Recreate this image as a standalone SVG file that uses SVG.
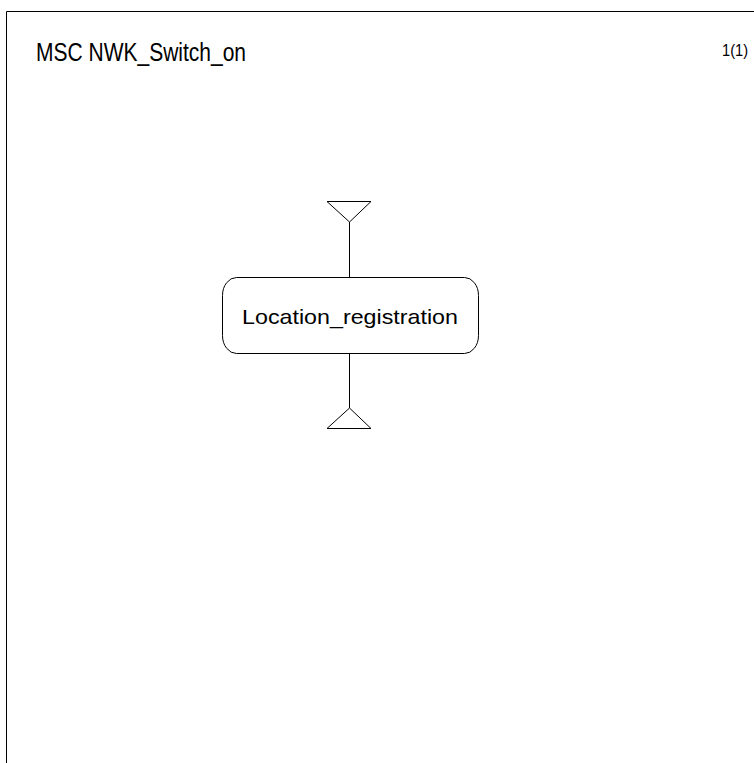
<svg xmlns="http://www.w3.org/2000/svg" width="754" height="763" viewBox="0 0 754 763">
<style>
.ln{fill:none;stroke:#000;stroke-width:1}
.t{font-family:"Liberation Sans",Arial,sans-serif;fill:#000}
</style>
<rect width="754" height="763" fill="#fff"/>
<g id="frame">
<path class="ln" d="M6.5,763 V11.5 H754"/>
<text class="t" x="36" y="61" font-size="25" textLength="210" lengthAdjust="spacingAndGlyphs">MSC NWK_Switch_on</text>
<text class="t" x="722" y="56" font-size="17" textLength="26" lengthAdjust="spacingAndGlyphs">1(1)</text>
</g>
<g id="connectors">
<line class="ln" x1="349.5" y1="222" x2="349.5" y2="277"/>
<line class="ln" x1="349.5" y1="354" x2="349.5" y2="408"/>
</g>
<g id="start">
<polygon class="ln" points="327,201.5 371,201.5 349.5,222"/>
</g>
<g id="proc">
<rect class="ln" x="222.5" y="277.5" width="256" height="76" rx="14" ry="18"/>
<text class="t" x="350" y="324" font-size="21" text-anchor="middle" textLength="216" lengthAdjust="spacingAndGlyphs">Location_registration</text>
</g>
<g id="end">
<polygon class="ln" points="327,428.5 371,428.5 349.5,408"/>
</g>
</svg>
